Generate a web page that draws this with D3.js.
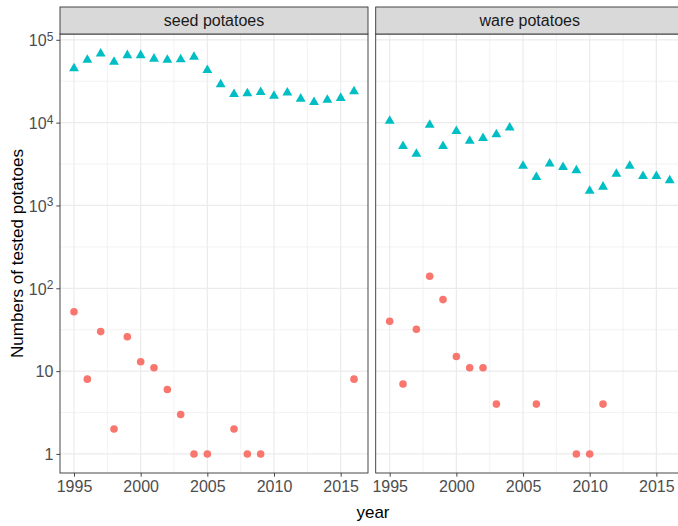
<!DOCTYPE html>
<html>
<head>
<meta charset="utf-8">
<script src="https://cdn.jsdelivr.net/npm/d3@7"></script>
<style>
  html, body { margin: 0; padding: 0; background: #ffffff; overflow: hidden; }
  svg { display: block; font-family: "Liberation Sans", Arial, sans-serif; }
</style>
</head>
<body>
<svg id="chart" width="678" height="526"></svg>
<script>
// ---------------- DATA ----------------
const facets = ["seed potatoes", "ware potatoes"];

// Triangles (cyan series)
const seedTriYears = [1995,1996,1997,1998,1999,2000,2001,2002,2003,2004,2005,2006,2007,2008,2009,2010,2011,2012,2013,2014,2015,2016];
const seedTriValues = [45000,57000,68000,54000,65000,65000,59000,57000,58000,62000,43000,29000,22000,22500,23300,21000,23000,19400,17700,18800,19800,23800];

const wareTriYears = [1995,1996,1997,1998,1999,2000,2001,2002,2003,2004,2005,2006,2007,2008,2009,2010,2011,2012,2013,2014,2015,2016];
const wareTriValues = [10500,5200,4200,9400,5200,7900,6000,6500,7200,8700,3000,2200,3200,2900,2650,1500,1680,2400,3000,2260,2260,2000];

// Circles (red series)
const seedCircYears = [1995,1996,1997,1998,1999,2000,2001,2002,2003,2004,2005,2007,2008,2009,2016];
const seedCircValues = [52,8,30,2,26,13,11,6,3,1,1,2,1,1,8];

const wareCircYears = [1995,1996,1997,1998,1999,2000,2001,2002,2003,2006,2009,2010,2011];
const wareCircValues = [40,7,32,140,73,15,11,11,4,4,1,1,4];

const xTicks = [1995, 2000, 2005, 2010, 2015];
const xMinor = [1997.5, 2002.5, 2007.5, 2012.5];
const yTickExps = [0, 1, 2, 3, 4, 5];
const yMinorExps = [0.5, 1.5, 2.5, 3.5, 4.5];

const xTitle = "year";
const yTitle = "Numbers of tested potatoes";

// ---------------- LAYOUT ----------------
const svg = d3.select("#chart");
const panelW = 308;
const panelTop = 34, panelBottom = 473;
const stripTop = 7;
const panelLefts = [60, 375.7];

const x = d3.scaleLinear().domain([1993.95, 2017.05]).range([0, panelW]);
const y = d3.scaleLog().domain([Math.pow(10, -0.23), Math.pow(10, 5.07)]).range([panelBottom - panelTop, 0]);

const triColor = "#00BFC4";
const circColor = "#F8766D";

const panelData = [
  { tri: seedTriYears.map((d, i) => ({ year: d, v: seedTriValues[i] })),
    circ: seedCircYears.map((d, i) => ({ year: d, v: seedCircValues[i] })) },
  { tri: wareTriYears.map((d, i) => ({ year: d, v: wareTriValues[i] })),
    circ: wareCircYears.map((d, i) => ({ year: d, v: wareCircValues[i] })) }
];

// triangle path (R pch 17 style, centred at circumcentre)
const rT = 5.7;
const triPath = `M0,${-rT} L${rT*Math.sqrt(3)/2},${rT/2} L${-rT*Math.sqrt(3)/2},${rT/2} Z`;

facets.forEach((name, pi) => {
  const g = svg.append("g").attr("transform", `translate(${panelLefts[pi]},${panelTop})`);
  const h = panelBottom - panelTop;

  g.append("rect").attr("x", 0).attr("y", 0).attr("width", panelW).attr("height", h).attr("fill", "#ffffff");

  // minor grid
  g.selectAll(".xminor").data(xMinor).enter().append("line")
    .attr("x1", d => x(d)).attr("x2", d => x(d)).attr("y1", 0).attr("y2", h)
    .attr("stroke", "#EBEBEB").attr("stroke-width", 0.6);
  g.selectAll(".yminor").data(yMinorExps).enter().append("line")
    .attr("x1", 0).attr("x2", panelW).attr("y1", d => y(Math.pow(10, d))).attr("y2", d => y(Math.pow(10, d)))
    .attr("stroke", "#EBEBEB").attr("stroke-width", 0.6);
  // major grid
  g.selectAll(".xmajor").data(xTicks).enter().append("line")
    .attr("x1", d => x(d)).attr("x2", d => x(d)).attr("y1", 0).attr("y2", h)
    .attr("stroke", "#EBEBEB").attr("stroke-width", 1.2);
  g.selectAll(".ymajor").data(yTickExps).enter().append("line")
    .attr("x1", 0).attr("x2", panelW).attr("y1", d => y(Math.pow(10, d))).attr("y2", d => y(Math.pow(10, d)))
    .attr("stroke", "#EBEBEB").attr("stroke-width", 1.2);

  // points
  g.selectAll(".circ").data(panelData[pi].circ).enter().append("circle")
    .attr("cx", d => x(d.year)).attr("cy", d => y(d.v)).attr("r", 3.8)
    .attr("fill", circColor);
  g.selectAll(".tri").data(panelData[pi].tri).enter().append("path")
    .attr("d", triPath)
    .attr("transform", d => `translate(${x(d.year)},${y(d.v)})`)
    .attr("fill", triColor);

  // panel border
  g.append("rect").attr("x", 0).attr("y", 0).attr("width", panelW).attr("height", h)
    .attr("fill", "none").attr("stroke", "#333333").attr("stroke-width", 0.9);

  // strip
  const s = svg.append("g").attr("transform", `translate(${panelLefts[pi]},${stripTop})`);
  s.append("rect").attr("x", 0).attr("y", 0).attr("width", panelW).attr("height", panelTop - stripTop)
    .attr("fill", "#D9D9D9").attr("stroke", "#333333").attr("stroke-width", 0.9);
  s.append("text").attr("x", panelW / 2).attr("y", (panelTop - stripTop) / 2 + 5.7)
    .attr("text-anchor", "middle").attr("font-size", 16).attr("fill", "#1A1A1A").text(name);

  // x axis
  const xa = svg.append("g").attr("transform", `translate(${panelLefts[pi]},${panelBottom})`);
  const xAxis = d3.axisBottom(x).tickValues(xTicks).tickFormat(d3.format("d")).tickSize(3.7).tickPadding(4);
  xa.call(xAxis);
  xa.select(".domain").remove();
  xa.selectAll(".tick line").attr("stroke", "#333333").attr("stroke-width", 0.9);
  xa.selectAll(".tick text").attr("fill", "#4D4D4D").attr("font-size", 16)
    .attr("font-family", "'Liberation Sans', Arial, sans-serif");
});

// y axis (left panel only)
const ya = svg.append("g").attr("transform", `translate(${panelLefts[0]},${panelTop})`);
const yAxis = d3.axisLeft(y).tickValues(yTickExps.map(e => Math.pow(10, e))).tickSize(3.7).tickPadding(3).tickFormat("");
ya.call(yAxis);
ya.select(".domain").remove();
ya.selectAll(".tick line").attr("stroke", "#333333").attr("stroke-width", 0.9);
ya.selectAll(".tick").each(function(d) {
  const e = Math.round(Math.log10(d));
  const t = d3.select(this).select("text")
    .attr("fill", "#4D4D4D").attr("font-size", 16).attr("dy", "0.36em")
    .attr("font-family", "'Liberation Sans', Arial, sans-serif");
  t.text(null);
  if (e === 0) { t.text("1"); }
  else if (e === 1) { t.text("10"); }
  else {
    t.append("tspan").text("10");
    t.append("tspan").attr("dy", "-0.45em").attr("font-size", 12).text(String(e));
  }
});

// axis titles
svg.append("text").attr("x", 373).attr("y", 518).attr("text-anchor", "middle")
  .attr("font-size", 17).attr("fill", "#000000").text(xTitle);
svg.append("text").attr("transform", `translate(${23},${(panelTop + panelBottom) / 2}) rotate(-90)`)
  .attr("text-anchor", "middle").attr("font-size", 17).attr("fill", "#000000").text(yTitle);
</script>
</body>
</html>
